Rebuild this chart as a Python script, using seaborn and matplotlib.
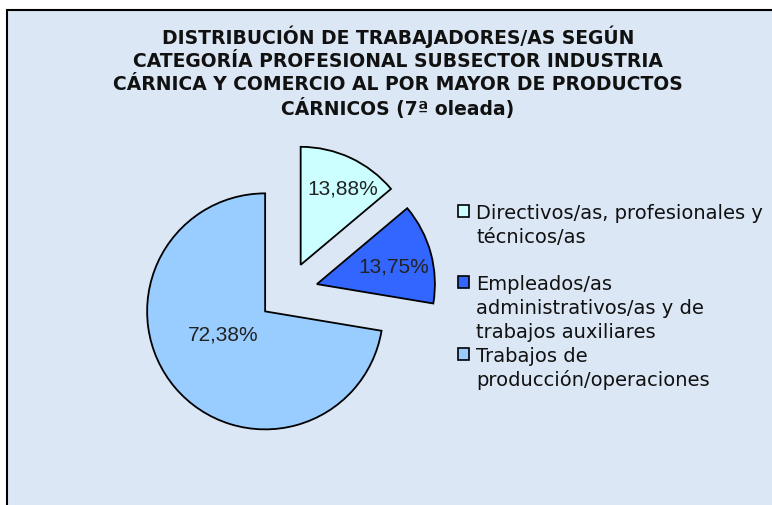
import numpy as np
import matplotlib
matplotlib.use("Agg")
import matplotlib.pyplot as plt
import seaborn as sns
from matplotlib.patches import Patch, Rectangle

# Data
categories = ["Directivos/as, profesionales y\ntécnicos/as",
              "Empleados/as\nadministrativos/as y de\ntrabajos auxiliares",
              "Trabajos de\nproducción/operaciones"]
values = [13.88, 13.75, 72.38]
colors = ["#CCFFFF", "#3366FF", "#99CCFF"]
title = ("DISTRIBUCIÓN DE TRABAJADORES/AS SEGÚN\n"
         "CATEGORÍA PROFESIONAL SUBSECTOR INDUSTRIA\n"
         "CÁRNICA Y COMERCIO AL POR MAYOR DE PRODUCTOS\n"
         "CÁRNICOS (7ª oleada)")

sns.set_theme(style="white")
plt.rcParams['font.family'] = ['DejaVu Sans']

bg = "#dbe7f5"
fig = plt.figure(figsize=(7.72, 5.06), dpi=100)
fig.patch.set_facecolor("white")

# chart area with black border (top / left only visible)
fig.patches.append(Rectangle((7 / 772, -0.05), 1.1, 1.05 - 10.5 / 506,
                             transform=fig.transFigure, facecolor=bg,
                             edgecolor="black", linewidth=1.5, zorder=-5))

# Pie axes (square in pixels)
r_px = 118
cx, cy = 288, 293
half = 1.6 * r_px
ax = fig.add_axes([(cx - half) / 772, (506 - cy - half) / 506,
                   2 * half / 772, 2 * half / 506])
ax.set_zorder(2)
ax.patch.set_visible(False)
wedges, _ = ax.pie(values, colors=sns.color_palette(colors), startangle=90,
                   counterclock=False, explode=[0.254] * len(values),
                   wedgeprops=dict(edgecolor="black", linewidth=1.3))
ax.set_xlim(-1.6, 1.6)
ax.set_ylim(-1.6, 1.6)
ax.axis("off")

# percentage labels (distance from slice apex, angle tweak in degrees)
label_dist = [0.74, 0.67, 0.40]
label_rot = [-3.6, -2.0, -12.3]
for w, v, d, dt in zip(wedges, values, label_dist, label_rot):
    th = np.deg2rad((w.theta1 + w.theta2) / 2 + dt)
    x0, y0 = w.center
    ax.text(x0 + d * np.cos(th), y0 + d * np.sin(th),
            f"{v:.2f}%".replace(".", ","), ha="center", va="center",
            fontsize=15, family="Liberation Sans", color="#222222")

# Legend: one row per text line, marker on first line
handles, labels = [], []
for i, (cat, col) in enumerate(zip(categories, colors)):
    lines = cat.split("\n")
    for j, ln in enumerate(lines):
        if j == 0:
            handles.append(Patch(facecolor=col, edgecolor="black", linewidth=1.2))
        else:
            handles.append(Patch(facecolor="none", edgecolor="none"))
        labels.append(ln)
    if i == 0:
        handles.append(Patch(facecolor="none", edgecolor="none"))
        labels.append(" ")

fig.legend(handles, labels, loc="upper left",
           bbox_to_anchor=(458 / 772, (506 - 204) / 506),
           frameon=False, fontsize=14, labelspacing=0.245,
           handlelength=0.57, handleheight=0.57, handletextpad=0.38,
           borderpad=0, borderaxespad=0, labelcolor="#111111")

fig.text(398 / 772, 1 - 26 / 506, title, ha="center", va="top",
         fontsize=13.5, fontweight="bold", linespacing=1.25, color="#111111")

fig.savefig("out.png", dpi=100, facecolor=fig.get_facecolor())
